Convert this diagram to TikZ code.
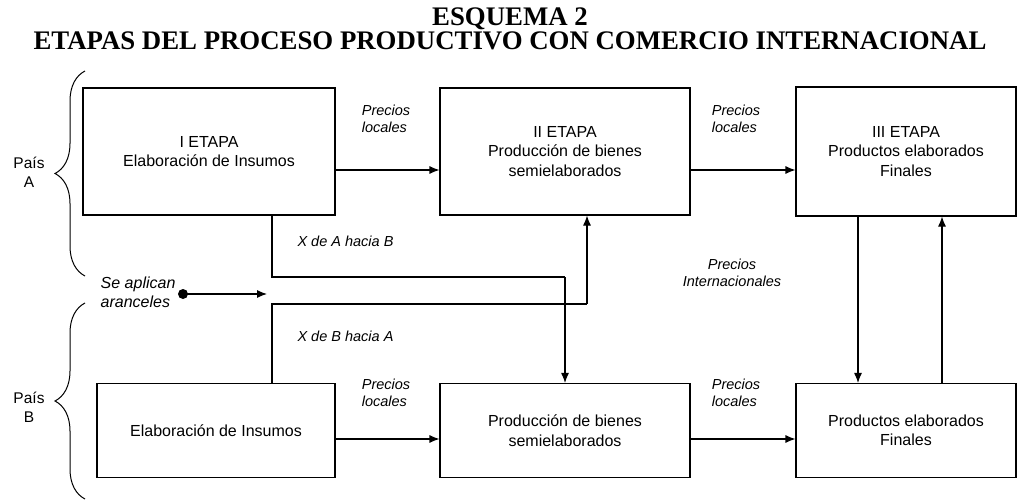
\documentclass[tikz,border=0pt]{standalone}
\usepackage{fontspec}
\setmainfont{Liberation Sans}
\newfontfamily\titlefont{Liberation Serif}
\usetikzlibrary{arrows.meta,decorations.pathreplacing}
\tikzset{
	etapa/.style  = {draw, line width=1.1pt, rectangle, align=center,
		inner sep=0pt, font=\fontsize{16}{19.5}\selectfont},
	precio/.style = {align=left, inner sep=0pt,
		font=\fontsize{14.5}{17}\selectfont\itshape},
	pais/.style   = {align=center, inner sep=0pt,
		font=\fontsize{15.5}{19}\selectfont},
	titulo/.style = {inner sep=0pt, font=\titlefont\bfseries\fontsize{26.8}{26.8}\selectfont},
	llave/.style  = {decorate, line width=1pt,
		decoration={brace, amplitude=30pt, aspect=0.5}},
	ruta/.style   = {line width=2pt},
	junction/.style = {coordinate}
}

\begin{document}
\begin{tikzpicture}[x=1pt, y=-1pt, line width=1.1pt,
	>={Latex[length=10pt, width=8pt]}]
	\useasboundingbox (0,0) rectangle (1018,500);
	\draw
	node at (510,18.5)[titulo] (title1) {ESQUEMA 2}
	node at (510,41)[titulo] (title2) {ETAPAS DEL PROCESO PRODUCTIVO CON COMERCIO INTERNACIONAL}
	node at (209,151.5)[etapa, minimum width=252pt, minimum height=127pt] (a1)
		{I ETAPA\\Elaboración de Insumos}
	node at (565,151.5)[etapa, minimum width=250pt, minimum height=127pt] (a2)
		{II ETAPA\\Producción de bienes\\semielaborados}
	node at (906,151.5)[etapa, minimum width=220pt, minimum height=129pt] (a3)
		{III ETAPA\\Productos elaborados\\Finales}
	node at (216,430.5)[etapa, minimum width=238pt, minimum height=94pt] (b1)
		{Elaboración de Insumos}
	node at (565,430.5)[etapa, minimum width=250pt, minimum height=94pt] (b2)
		{Producción de bienes\\semielaborados}
	node at (906,430.5)[etapa, minimum width=220pt, minimum height=94pt] (b3)
		{Productos elaborados\\Finales}
	;
	
	% etiquetas
	\draw
	node at (386,118.5)[precio] (pla1) {Precios\\locales}
	node at (736,118.5)[precio] (pla2) {Precios\\locales}
	node at (386,393)[precio] (plb1) {Precios\\locales}
	node at (736,393)[precio] (plb2) {Precios\\locales}
	node at (297,241)[precio, anchor=west] (xab) {X de A hacia B}
	node at (297,336)[precio, anchor=west] (xba) {X de B hacia A}
	node at (732,273)[precio, align=center] (pint) {Precios\\Internacionales}
	node at (176,292)[precio, anchor=east, font=\fontsize{16}{19}\selectfont\itshape] (aran)
		{Se aplican\\aranceles}
	node at (29,172)[pais] (paisa) {País\\A}
	node at (29,407)[pais] (paisb) {País\\B}
	;
	
	\draw
	node at (565,277)[junction] (ab) {}
	node at (587,304)[junction] (ba) {}
	node at (183,294)[junction] (dot) {}
	node at (267,294)[junction] (tar) {}
	;
	
	\draw[->] ([yshift=-18.5pt]a1.east) -- ([yshift=-18.5pt]a2.west);
	\draw[->] ([yshift=-18.5pt]a2.east) -- ([yshift=-18.5pt]a3.west);
	\draw[->] ([yshift=-8.5pt]b1.east) -- ([yshift=-8.5pt]b2.west);
	\draw[->] ([yshift=-8.5pt]b2.east) -- ([yshift=-8.5pt]b3.west);
	\draw[ruta] ([xshift=63pt]a1.south) |- (ab);
	\draw[->] (ab) -- (b2.north);
	\draw[ruta] ([xshift=56pt]b1.north) |- (ba);
	\draw[->] (ba) -- (ba |- a2.south);
	\draw[->] ([xshift=-48pt]a3.south) -- ([xshift=-48pt]b3.north);
	\draw[->] ([xshift=36pt]b3.north) -- ([xshift=36pt]a3.south);
	\draw[->] (dot) -- (tar);
	\fill (dot) circle (5pt);
	
	% llaves
	\draw[llave] (85,276) -- (85,71);
	\draw[llave] (85,499) -- (85,303);
\end{tikzpicture}
\end{document}
